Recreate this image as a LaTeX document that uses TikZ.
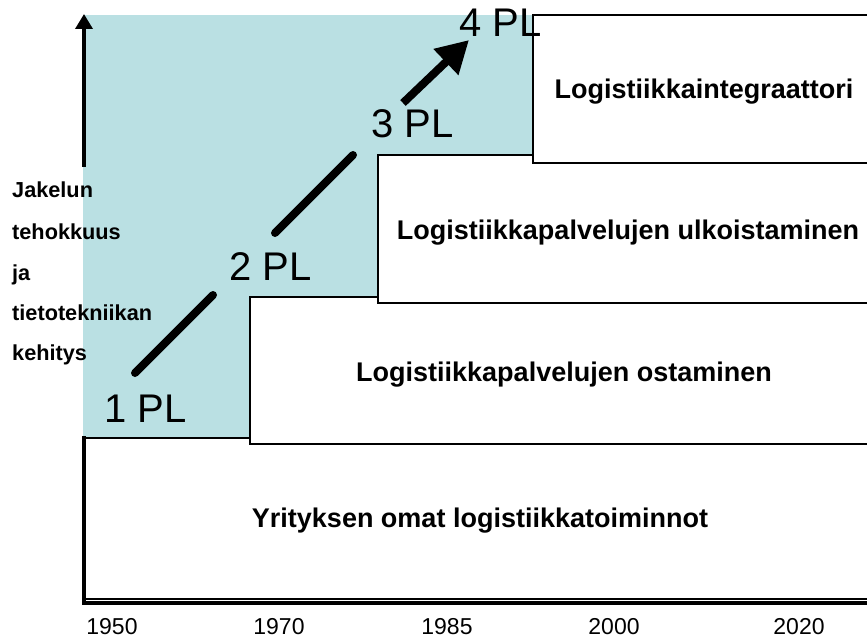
\documentclass[tikz,border=0pt]{standalone}
\usepackage{fontspec}
\setmainfont{Liberation Sans}
\usetikzlibrary{arrows.meta}
\definecolor{stageteal}{RGB}{186,224,227}
\begin{document}
\begin{tikzpicture}[x=1pt,y=-1pt,
  stagebox/.style={draw=black,line width=1.3pt,fill=white},
  boxlabel/.style={anchor=base,inner sep=0pt,font=\fontsize{27}{31}\selectfont\bfseries},
  pllabel/.style={anchor=base west,inner sep=0pt,font=\fontsize{40}{44}\selectfont},
  yearlabel/.style={anchor=base,inner sep=0pt,font=\fontsize{23}{27}\selectfont},
  axislabel/.style={anchor=base west,inner sep=0pt,font=\fontsize{21.7}{25}\selectfont\bfseries},
  axisline/.style={line width=3.5pt},
  stepline/.style={line width=8pt,line cap=round}]
\useasboundingbox (0,0) rectangle (867,639);
\clip (0,0) rectangle (867,639);

% shaded development area
\fill[stageteal] (83,15) rectangle (533,438);

% stacked stage boxes
\draw[stagebox] (84,438) rectangle (890,599);
\draw[stagebox] (250,297) rectangle (890,444);
\draw[stagebox] (378,155) rectangle (890,303);
\draw[stagebox] (533,15) rectangle (890,163);

% axes
\draw[axisline,line cap=rect] (84,438) -- (84,603) -- (890,603);
\coordinate (ybase) at (84,167);
\coordinate (ytop) at (84,14);
\draw[axisline,-{Triangle[length=15pt,width=17pt]}] (ybase) -- (ytop);

% box texts
\node[boxlabel] (integ) at (704,99) {Logistiikkaintegraattori};
\node[boxlabel] (ulko) at (628,239) {Logistiikkapalvelujen ulkoistaminen};
\node[boxlabel] (osta) at (564,381) {Logistiikkapalvelujen ostaminen};
\node[boxlabel] (oma) at (480,527) {Yrityksen omat logistiikkatoiminnot};

% party-logistics levels
\node[pllabel] (pl1) at (104,422) {1 PL};
\node[pllabel] (pl2) at (229,280) {2 PL};
\node[pllabel] (pl3) at (371,138) {3 PL};
\node[pllabel] (pl4) at (459,37) {4 PL};

\coordinate (s1a) at (135,373);
\coordinate (s1b) at (213,295);
\coordinate (s2a) at (275,233);
\coordinate (s2b) at (353,155);
\coordinate (s3a) at (403,103);
\coordinate (s3b) at (469,40);
\draw[stepline] (s1a) -- (s1b);
\draw[stepline] (s2a) -- (s2b);
\draw[line width=8pt,-{Triangle[length=32pt,width=34pt]}] (s3a) -- (s3b);

% vertical axis caption
\node[axislabel] (ax1) at (12,198) {Jakelun};
\node[axislabel] (ax2) at (12,240) {tehokkuus};
\node[axislabel] (ax3) at (12,280) {ja};
\node[axislabel] (ax4) at (12,320) {tietotekniikan};
\node[axislabel] (ax5) at (12,360) {kehitys};

% years
\node[yearlabel] (y1950) at (112,634) {1950};
\node[yearlabel] (y1970) at (279,634) {1970};
\node[yearlabel] (y1985) at (447,634) {1985};
\node[yearlabel] (y2000) at (614,634) {2000};
\node[yearlabel] (y2020) at (799,634) {2020};
\end{tikzpicture}
\end{document}
